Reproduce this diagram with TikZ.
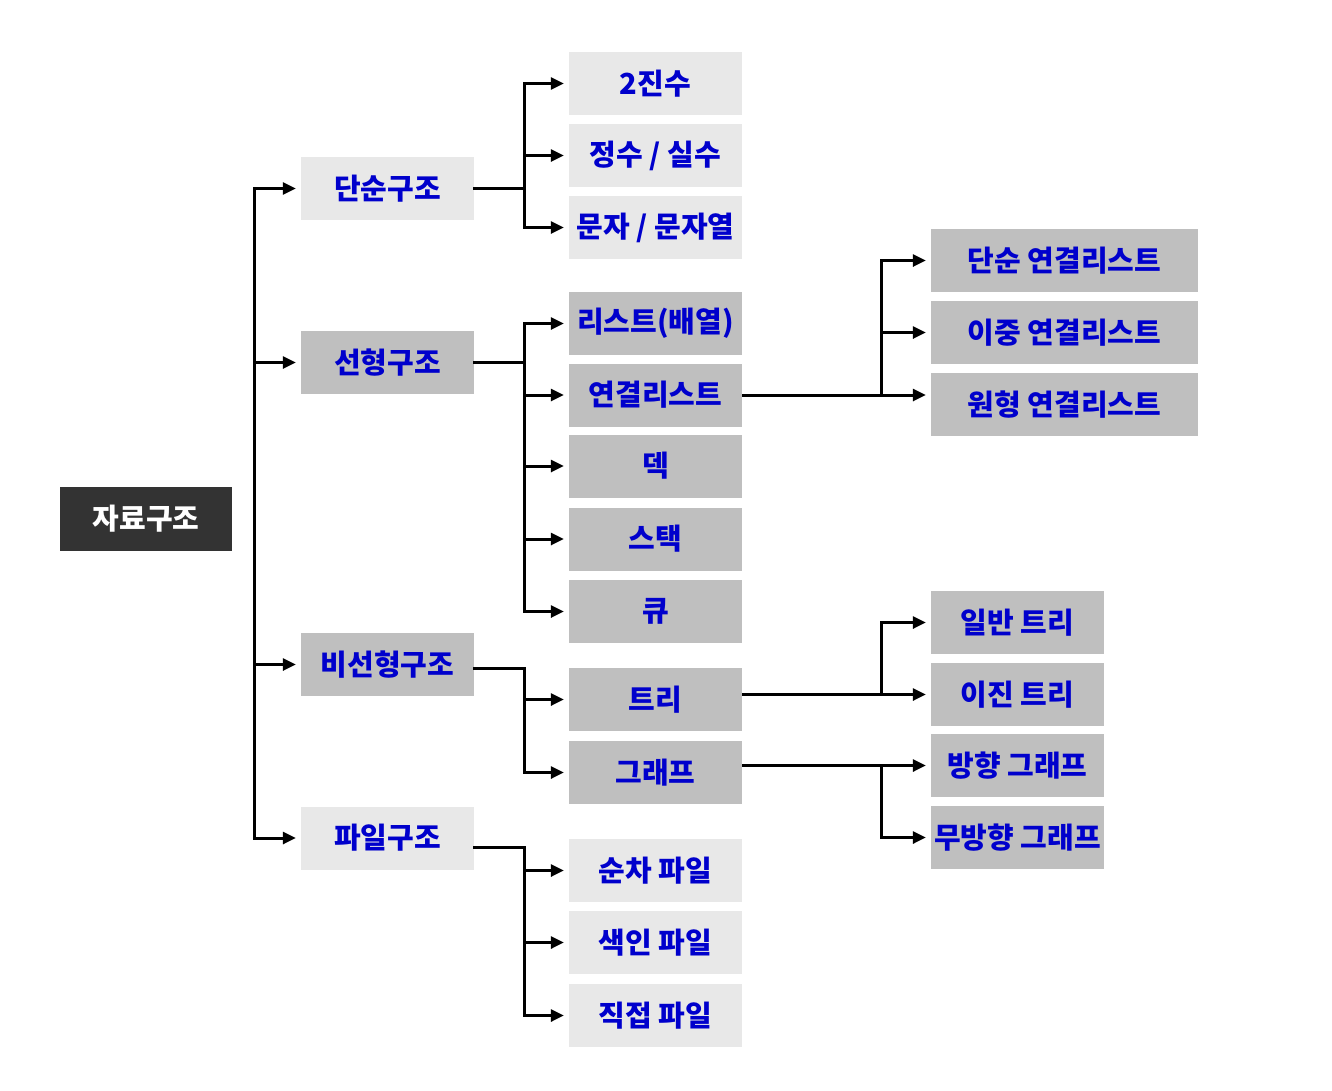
\documentclass[tikz,border=0pt]{standalone}
\usepackage{fontspec}
\setmainfont{Noto Sans CJK KR}
\usetikzlibrary{arrows.meta}
\definecolor{lightbox}{HTML}{E8E8E8}
\definecolor{midbox}{HTML}{BFBFBF}
\definecolor{darkbox}{HTML}{333333}
\definecolor{txtblue}{HTML}{0000CC}
\begin{document}
\begin{tikzpicture}[x=1pt,y=-1pt,
  box/.style={minimum width=173pt, minimum height=63pt, inner sep=0pt,
    font=\fontsize{29}{29}\selectfont\bfseries, text=txtblue},
  lbox/.style={box, fill=lightbox},
  mbox/.style={box, fill=midbox},
  wbox/.style={mbox, minimum width=267pt},
  rootbox/.style={box, fill=darkbox, text=white, minimum width=172pt, minimum height=64pt},
  ln/.style={line width=3pt, line cap=rect},
  arr/.style={line width=3pt, -{Triangle[length=13pt,width=12pt]}, shorten >=5pt},
]
\fill[white] (0,0) rectangle (1332,1090);
\useasboundingbox (0,0) rectangle (1332,1090);

% root
\node[rootbox] (root) at (146,519) {자료구조};

% level 1
\node[lbox] (s1) at (387.5,188.5) {단순구조};
\node[mbox] (s2) at (387.5,362.5) {선형구조};
\node[mbox] (s3) at (387.5,664.5) {비선형구조};
\node[lbox] (s4) at (387.5,838) {파일구조};

% level 2
\node[lbox] (a1) at (655.5,83.5) {2진수};
\node[lbox] (a2) at (655.5,155.5) {정수 / 실수};
\node[lbox] (a3) at (655.5,227.5) {문자 / 문자열};
\node[mbox] (b1) at (655.5,323.5) {리스트(배열)};
\node[mbox] (b2) at (655.5,395) {연결리스트};
\node[mbox] (b3) at (655.5,466) {덱};
\node[mbox] (b4) at (655.5,539) {스택};
\node[mbox] (b5) at (655.5,611.5) {큐};
\node[mbox] (c1) at (655.5,699.5) {트리};
\node[mbox] (c2) at (655.5,772.5) {그래프};
\node[lbox] (d1) at (655.5,870.5) {순차 파일};
\node[lbox] (d2) at (655.5,942.5) {색인 파일};
\node[lbox] (d3) at (655.5,1015.5) {직접 파일};

% level 3
\node[wbox] (e1) at (1064.5,260.5) {단순 연결리스트};
\node[wbox] (e2) at (1064.5,332.5) {이중 연결리스트};
\node[wbox] (e3) at (1064.5,404.5) {원형 연결리스트};
\node[mbox] (f1) at (1017.5,622.5) {일반 트리};
\node[mbox] (f2) at (1017.5,694.5) {이진 트리};
\node[mbox] (f3) at (1017.5,765.5) {방향 그래프};
\node[mbox] (f4) at (1017.5,837.5) {무방향 그래프};

% branch coordinates
\coordinate (tr) at (254,0);
\coordinate (k1) at (524,0);
\coordinate (k2) at (881,0);

% trunk
\draw[ln] (tr|-s1) -- (tr|-s4);
\foreach \n in {s1,s2,s3,s4} \draw[arr] (tr|-\n) -- (\n);

% 단순구조
\draw[ln] (s1.east) -- (k1|-s1);
\draw[ln] (k1|-a1) -- (k1|-a3);
\foreach \n in {a1,a2,a3} \draw[arr] (k1|-\n) -- (\n);

% 선형구조
\draw[ln] (s2.east) -- (k1|-s2);
\draw[ln] (k1|-b1) -- (k1|-b5);
\foreach \n in {b1,b2,b3,b4,b5} \draw[arr] (k1|-\n) -- (\n);

% 비선형구조
\draw[ln] ([yshift=-3.5pt]s3.east) -| (k1|-c2);
\foreach \n in {c1,c2} \draw[arr] (k1|-\n) -- (\n);

% 파일구조
\draw[ln] ([yshift=-9pt]s4.east) -| (k1|-d3);
\foreach \n in {d1,d2,d3} \draw[arr] (k1|-\n) -- (\n);

% 연결리스트
\draw[arr] (b2.east) -- (b2.east-|e3.west);
\draw[ln] (k2|-b2) -- (k2|-e1);
\foreach \n in {e1,e2} \draw[arr] (k2|-\n) -- (\n);

% 트리
\draw[arr] (c1.east|-f2) -- (f2);
\draw[ln] (k2|-f2) -- (k2|-f1);
\draw[arr] (k2|-f1) -- (f1);

% 그래프
\draw[arr] (c2.east|-f3) -- (f3);
\draw[ln] (k2|-f3) -- (k2|-f4);
\draw[arr] (k2|-f4) -- (f4);
\end{tikzpicture}
\end{document}
